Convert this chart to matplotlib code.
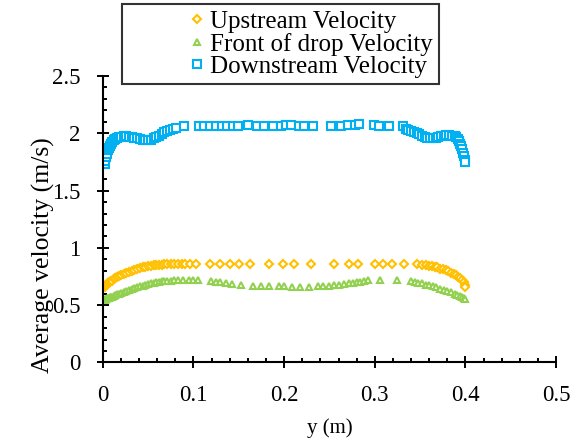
import numpy as np
import matplotlib
matplotlib.use("Agg")
import matplotlib.pyplot as plt
from matplotlib.ticker import MultipleLocator, FuncFormatter

plt.rcParams['font.family'] = ['Liberation Serif', 'DejaVu Serif']

# Upstream velocity (m/s) vs y (m)
up_y = [0.002, 0.003, 0.004, 0.005, 0.006, 0.007, 0.008, 0.009, 0.010, 0.012,
        0.014, 0.016, 0.018, 0.020, 0.023, 0.026, 0.029, 0.032, 0.035, 0.038,
        0.041, 0.044, 0.047, 0.050, 0.053, 0.056, 0.059, 0.062, 0.065, 0.068,
        0.071, 0.075, 0.079, 0.083, 0.087, 0.091, 0.096, 0.103, 0.118, 0.129,
        0.140, 0.150, 0.162, 0.183, 0.199, 0.211, 0.230, 0.255, 0.271, 0.282,
        0.300, 0.309, 0.319, 0.332, 0.346, 0.352, 0.356, 0.360, 0.363, 0.366,
        0.369, 0.372, 0.375, 0.378, 0.381, 0.384, 0.387, 0.390, 0.392, 0.394,
        0.396, 0.398, 0.399, 0.400]
up_v = [0.655, 0.665, 0.675, 0.685, 0.690, 0.700, 0.705, 0.710, 0.715, 0.725,
        0.735, 0.745, 0.755, 0.760, 0.770, 0.780, 0.790, 0.800, 0.810, 0.815,
        0.825, 0.830, 0.835, 0.840, 0.845, 0.850, 0.850, 0.855, 0.855, 0.860,
        0.860, 0.860, 0.860, 0.860, 0.860, 0.860, 0.860, 0.860, 0.860, 0.860,
        0.860, 0.860, 0.860, 0.860, 0.860, 0.860, 0.860, 0.860, 0.860, 0.860,
        0.860, 0.860, 0.860, 0.860, 0.860, 0.855, 0.850, 0.845, 0.840, 0.835,
        0.830, 0.820, 0.815, 0.805, 0.795, 0.785, 0.775, 0.760, 0.750, 0.735,
        0.720, 0.700, 0.680, 0.660]

# Front of drop velocity
front_y = [0.002, 0.003, 0.004, 0.005, 0.006, 0.007, 0.008, 0.009, 0.010, 0.012,
           0.014, 0.016, 0.018, 0.020, 0.023, 0.026, 0.029, 0.032, 0.035, 0.038,
           0.041, 0.044, 0.047, 0.050, 0.053, 0.056, 0.059, 0.062, 0.065, 0.068,
           0.071, 0.075, 0.079, 0.083, 0.089, 0.095, 0.100, 0.105, 0.119, 0.125,
           0.129, 0.136, 0.143, 0.152, 0.166, 0.174, 0.183, 0.194, 0.200, 0.209,
           0.218, 0.227, 0.237, 0.243, 0.249, 0.255, 0.260, 0.266, 0.271, 0.276,
           0.280, 0.284, 0.288, 0.293, 0.306, 0.325, 0.340, 0.344, 0.348, 0.352,
           0.356, 0.360, 0.364, 0.368, 0.372, 0.376, 0.380, 0.384, 0.388, 0.391,
           0.394, 0.396, 0.398, 0.400]
front_v = [0.545, 0.550, 0.555, 0.560, 0.565, 0.565, 0.570, 0.575, 0.575, 0.580,
           0.585, 0.595, 0.600, 0.605, 0.615, 0.625, 0.635, 0.640, 0.650, 0.655,
           0.665, 0.670, 0.680, 0.685, 0.690, 0.695, 0.700, 0.705, 0.710, 0.710,
           0.715, 0.715, 0.720, 0.720, 0.720, 0.720, 0.720, 0.720, 0.710, 0.705,
           0.700, 0.695, 0.685, 0.680, 0.665, 0.665, 0.665, 0.665, 0.665, 0.660,
           0.660, 0.660, 0.665, 0.665, 0.670, 0.675, 0.680, 0.685, 0.690, 0.695,
           0.700, 0.705, 0.710, 0.720, 0.720, 0.720, 0.710, 0.700, 0.695, 0.690,
           0.680, 0.675, 0.665, 0.655, 0.645, 0.635, 0.625, 0.615, 0.600, 0.590,
           0.580, 0.570, 0.560, 0.550]

# Downstream velocity
down_y = [0.002, 0.003, 0.004, 0.005, 0.006, 0.007, 0.008, 0.009, 0.010, 0.012,
          0.014, 0.016, 0.018, 0.020, 0.023, 0.026, 0.029, 0.032, 0.035, 0.038,
          0.041, 0.044, 0.047, 0.050, 0.053, 0.056, 0.059, 0.062, 0.065, 0.068,
          0.071, 0.074, 0.077, 0.081, 0.090, 0.106, 0.112, 0.118, 0.125, 0.131,
          0.137, 0.144, 0.149, 0.160, 0.170, 0.178, 0.188, 0.197, 0.202, 0.208,
          0.216, 0.222, 0.232, 0.252, 0.263, 0.270, 0.278, 0.283, 0.299, 0.305,
          0.316, 0.331, 0.334, 0.337, 0.340, 0.343, 0.346, 0.349, 0.352, 0.355,
          0.358, 0.361, 0.364, 0.367, 0.370, 0.373, 0.376, 0.379, 0.382, 0.385,
          0.388, 0.390, 0.392, 0.393, 0.394, 0.395, 0.396, 0.397, 0.398, 0.399,
          0.400]
down_v = [1.730, 1.760, 1.790, 1.820, 1.850, 1.870, 1.890, 1.910, 1.920, 1.940,
          1.950, 1.960, 1.965, 1.970, 1.975, 1.975, 1.970, 1.965, 1.960, 1.955,
          1.950, 1.945, 1.940, 1.940, 1.945, 1.955, 1.965, 1.980, 1.995, 2.010,
          2.020, 2.030, 2.040, 2.050, 2.060, 2.065, 2.065, 2.065, 2.065, 2.060,
          2.060, 2.065, 2.065, 2.070, 2.065, 2.065, 2.060, 2.065, 2.070, 2.070,
          2.065, 2.065, 2.060, 2.060, 2.065, 2.070, 2.075, 2.080, 2.070, 2.065,
          2.065, 2.060, 2.040, 2.030, 2.020, 2.010, 2.000, 1.990, 1.980, 1.970,
          1.960, 1.955, 1.955, 1.960, 1.965, 1.975, 1.980, 1.985, 1.985, 1.980,
          1.975, 1.965, 1.950, 1.930, 1.910, 1.890, 1.860, 1.830, 1.800, 1.770,
          1.750]

fig = plt.figure(figsize=(5.81, 4.44), dpi=100)
ax = fig.add_axes([0.1768, 0.1836, 0.7805, 0.6452])

ax.plot(up_y, up_v, 'D', ms=3.6, mfc='white', mec='#FFC000', mew=1.5,
        label='Upstream Velocity')
ax.plot(front_y, front_v, '^', ms=4.8, mfc='white', mec='#92D050', mew=1.5,
        label='Front of drop Velocity')
ax.plot(down_y, down_v, 's', ms=5.2, mfc='white', mec='#00B0F0', mew=1.5,
        label='Downstream Velocity')

ax.set_xlim(0, 0.5)
ax.set_ylim(0, 2.5)
ax.xaxis.set_major_locator(MultipleLocator(0.1))
ax.xaxis.set_minor_locator(MultipleLocator(0.02))
ax.yaxis.set_major_locator(MultipleLocator(0.5))
ax.yaxis.set_minor_locator(MultipleLocator(0.1))
fmt = FuncFormatter(lambda v, p: '{:g}'.format(round(v, 3)))
ax.xaxis.set_major_formatter(fmt)
ax.yaxis.set_major_formatter(fmt)

for s in ['top', 'right']:
    ax.spines[s].set_visible(False)
for s in ['left', 'bottom']:
    ax.spines[s].set_linewidth(1.5)

ax.tick_params(which='major', direction='inout', length=8, width=1.4,
               labelsize=16.5)
ax.tick_params(which='minor', direction='in', length=3.2, width=1.4)
ax.tick_params(axis='y', which='major', pad=12)
ax.tick_params(axis='x', which='major', pad=12)

ax.set_xlabel('y (m)', fontsize=15, labelpad=9)
ax.set_ylabel('Average velocity (m/s)', fontsize=18.5)
ax.yaxis.set_label_coords(-0.105, 0.375)

leg = ax.legend(loc='upper left', bbox_to_anchor=(122 / 581, 1 - 4 / 444),
                bbox_transform=fig.transFigure, fontsize=18, numpoints=1,
                handlelength=5.5, handletextpad=-2.25, labelspacing=0.0,
                borderpad=0.25, borderaxespad=0, fancybox=False,
                frameon=True)
leg.get_frame().set_edgecolor('black')
leg.get_frame().set_linewidth(1.5)

fig.savefig('out.png', dpi=100)
